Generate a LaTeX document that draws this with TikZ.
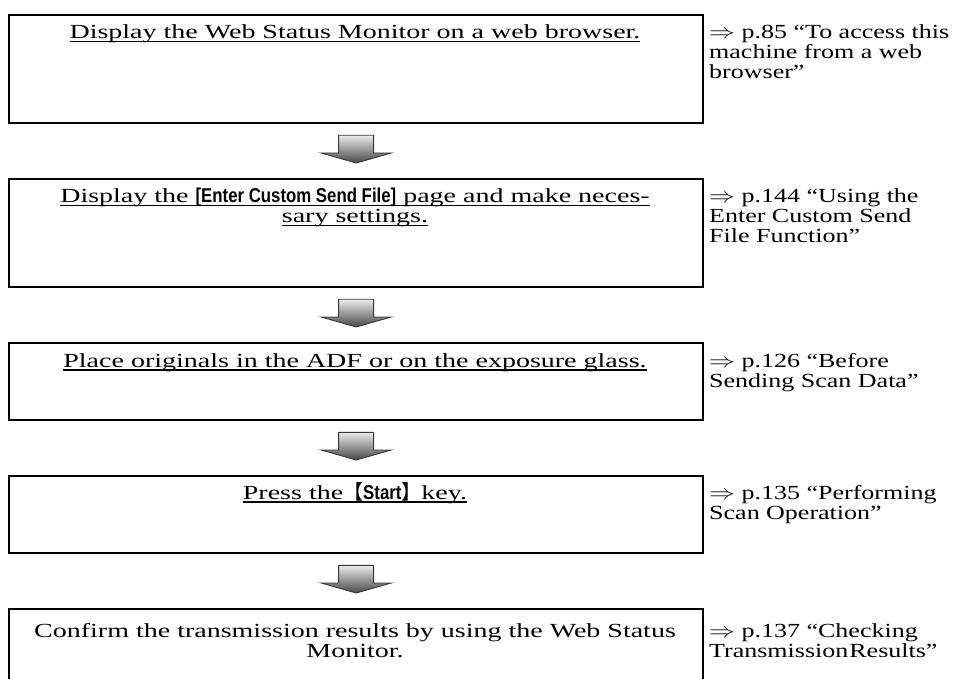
\documentclass[tikz,border=0pt]{standalone}
\usepackage{fontspec}
\setmainfont[FakeStretch=1.4]{Liberation Serif}
\newfontfamily\reffont[FakeStretch=1.3]{Liberation Serif}
\newfontfamily\bsans[FakeStretch=0.84]{Liberation Sans}
\newfontfamily\cjk{Noto Sans CJK JP}
\usetikzlibrary{calc}
\newcommand\ulx[1]{\leavevmode\setbox0\hbox{#1}\rlap{\rule[-3.5pt]{\wd0}{1.6pt}}\box0}
\newcommand\bs[1]{{\bsans\bfseries #1}}
\newcommand\cvt[1]{\vtop{\baselineskip=20pt\halign{\hfil##\hfil\cr#1\crcr}}}
\newcommand\lvt[1]{\vtop{\baselineskip=20pt\halign{##\hfil\cr#1\crcr}}}
\newcommand\arr{\scalebox{1.25}[1]{$\Rightarrow$}}
\begin{document}
\begin{tikzpicture}[x=1pt,y=-1pt,
  stepbox/.style={draw=black, line width=2.3pt, inner sep=0pt, anchor=north west, minimum width=694pt},
  boxtext/.style={anchor=base, inner sep=0pt, font=\fontsize{20}{20}\selectfont},
  reftext/.style={anchor=base west, inner sep=0pt, font=\reffont\fontsize{20}{20}\selectfont},
  flowarrow/.style={top color=black!8, bottom color=black!72, draw=black!78, line width=0.9pt}]
\useasboundingbox (0,0) rectangle (959,679);
% boxes
\node[stepbox, minimum height=108pt] (b1) at (8,14) {};
\node[stepbox, minimum height=108pt] (b2) at (8,178) {};
\node[stepbox, minimum height=77pt] (b3) at (8,342) {};
\node[stepbox, minimum height=77pt] (b4) at (8,475) {};
\node[stepbox, minimum height=100pt] (b5) at (8,608) {};
% box texts
\node[boxtext] (t1) at (355,39) {\cvt{\ulx{Display the Web Status Monitor on a web browser.}}};
\node[boxtext] (t2) at (355,203) {\cvt{\ulx{Display the \bs{[Enter Custom Send File]} page and make neces-}\cr\ulx{sary settings.}}};
\node[boxtext] (t3) at (355,367) {\cvt{\ulx{Place originals in the ADF or on the exposure glass.}}};
\node[boxtext] (t4) at (355,499) {\cvt{\ulx{Press the{\cjk 【}\bs{Start}{\cjk 】}key.}}};
\node[boxtext] (t5) at (355,637) {\cvt{Confirm the transmission results by using the Web Status\cr Monitor.}};
% reference texts
\node[reftext] (r1) at (709,39) {\lvt{\arr\ p.85 “To access this\cr machine from a web\cr browser”}};
\node[reftext] (r2) at (709,203) {\lvt{\arr\ p.144 “Using the\cr Enter Custom Send\cr File Function”}};
\node[reftext] (r3) at (709,367) {\lvt{\arr\ p.126 “Before\cr Sending Scan Data”}};
\node[reftext] (r4) at (709,499) {\lvt{\arr\ p.135 “Performing\cr Scan Operation”}};
\node[reftext] (r5) at (709,637) {\lvt{\arr\ p.137 “Checking\cr Transmission\hspace{1pt}Results”}};
% arrows between boxes
\foreach \u/\l in {b1/b2,b2/b3,b3/b4,b4/b5}{
  \shade[flowarrow] let \p1=(\u.south), \p2=(\l.north) in
    (\x1-17.5pt,\y1-11pt) -- (\x1+17.5pt,\y1-11pt) -- (\x1+17.5pt,\y2+25pt)
    -- (\x1+35pt,\y2+25pt) -- (\x1,\y2+15pt) -- (\x1-35pt,\y2+25pt)
    -- (\x1-17.5pt,\y2+25pt) -- cycle;
}
\end{tikzpicture}
\end{document}
